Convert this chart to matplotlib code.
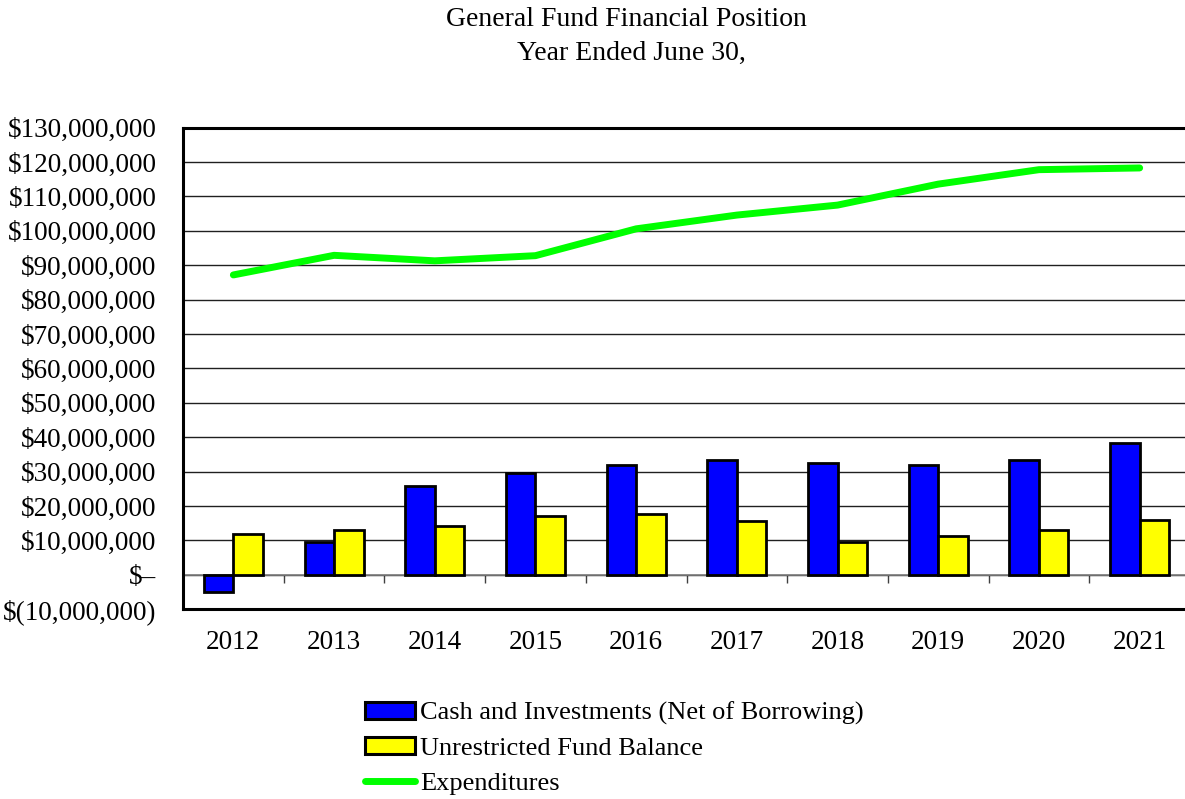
import matplotlib
matplotlib.use("Agg")
import matplotlib.pyplot as plt
import numpy as np
from matplotlib.patches import Patch
from matplotlib.lines import Line2D

years = ["2012", "2013", "2014", "2015", "2016", "2017", "2018", "2019", "2020", "2021"]
cash_investments = [-5.1e6, 9.7e6, 25.7e6, 29.7e6, 32.0e6, 33.3e6, 32.5e6, 32.0e6, 33.3e6, 38.2e6]
unrestricted_balance = [11.8e6, 13.1e6, 14.2e6, 17.1e6, 17.7e6, 15.6e6, 9.7e6, 11.4e6, 13.1e6, 15.9e6]
expenditures = [87.2e6, 92.9e6, 91.3e6, 92.8e6, 100.6e6, 104.6e6, 107.5e6, 113.6e6, 117.8e6, 118.3e6]
ytick_values = list(range(-10_000_000, 130_000_001, 10_000_000))

plt.rcParams['font.family'] = ['Liberation Serif', 'DejaVu Serif']
FS = 19.5

def money(v):
    if v == 0:
        return "$\u2013"
    if v < 0:
        return "$({:,.0f})".format(-v)
    return "${:,.0f}".format(v)

fig = plt.figure(figsize=(11.85, 7.99), dpi=100)
ax = fig.add_axes([183/1185, 1 - 609.3/799, (1190-183)/1185, (609.3-127.7)/799])

x = np.arange(len(years))
w = 0.293
ax.bar(x - w/2, cash_investments, w, color='#0000FF', edgecolor='black', linewidth=2.0, zorder=3,
       label='Cash and Investments (Net of Borrowing)')
ax.bar(x + w/2, unrestricted_balance, w, color='#FFFF00', edgecolor='black', linewidth=2.0, zorder=3,
       label='Unrestricted Fund Balance')
ax.plot(x, expenditures, color='#00FF00', linewidth=5, solid_capstyle='round', solid_joinstyle='round',
        zorder=4, label='Expenditures')

ax.set_xlim(-0.5, len(years) - 0.5)
ax.set_ylim(-10_000_000, 130_000_000)
ax.set_yticks(ytick_values)
ax.set_yticklabels([money(v) for v in ytick_values], fontsize=FS)
ax.tick_params(axis='y', length=0, pad=19)
ax.set_xticks(x)
ax.set_xticklabels(years, fontsize=FS)
ax.tick_params(axis='x', length=0, pad=15)

ax.grid(axis='y', color='#202020', linewidth=1.0, zorder=0)
ax.axhline(0, color='#808080', linewidth=1.2, zorder=2)
for s in ax.spines.values():
    s.set_linewidth(2.2)
    s.set_color('black')

sec = ax.secondary_xaxis(1/14)
sec.set_xticks(np.arange(0.5, len(years) - 0.5, 1.0))
sec.set_xticklabels([])
sec.tick_params(direction='out', length=6, width=1.0, color='#404040')
sec.spines['bottom'].set_visible(False)

fig.text(626/1185, 1 - 19/799, "General Fund Financial Position", ha='center', va='center', fontsize=20)
fig.text(631/1185, 1 - 53/799, "Year Ended June 30,", ha='center', va='center', fontsize=20)

handles = [Patch(facecolor='#0000FF', edgecolor='black', linewidth=2.2),
           Patch(facecolor='#FFFF00', edgecolor='black', linewidth=2.2),
           Line2D([0], [0], color='#00FF00', linewidth=5, solid_capstyle='round')]
labels = ['Cash and Investments (Net of Borrowing)', 'Unrestricted Fund Balance', 'Expenditures']
fig.legend(handles, labels, loc='upper left', bbox_to_anchor=(365/1185, 1 - 702/799), frameon=False,
           fontsize=19, handlelength=1.9, handleheight=0.6, handletextpad=0.2, labelspacing=0.45,
           borderaxespad=0, borderpad=0)

fig.savefig("out.png", dpi=100)
